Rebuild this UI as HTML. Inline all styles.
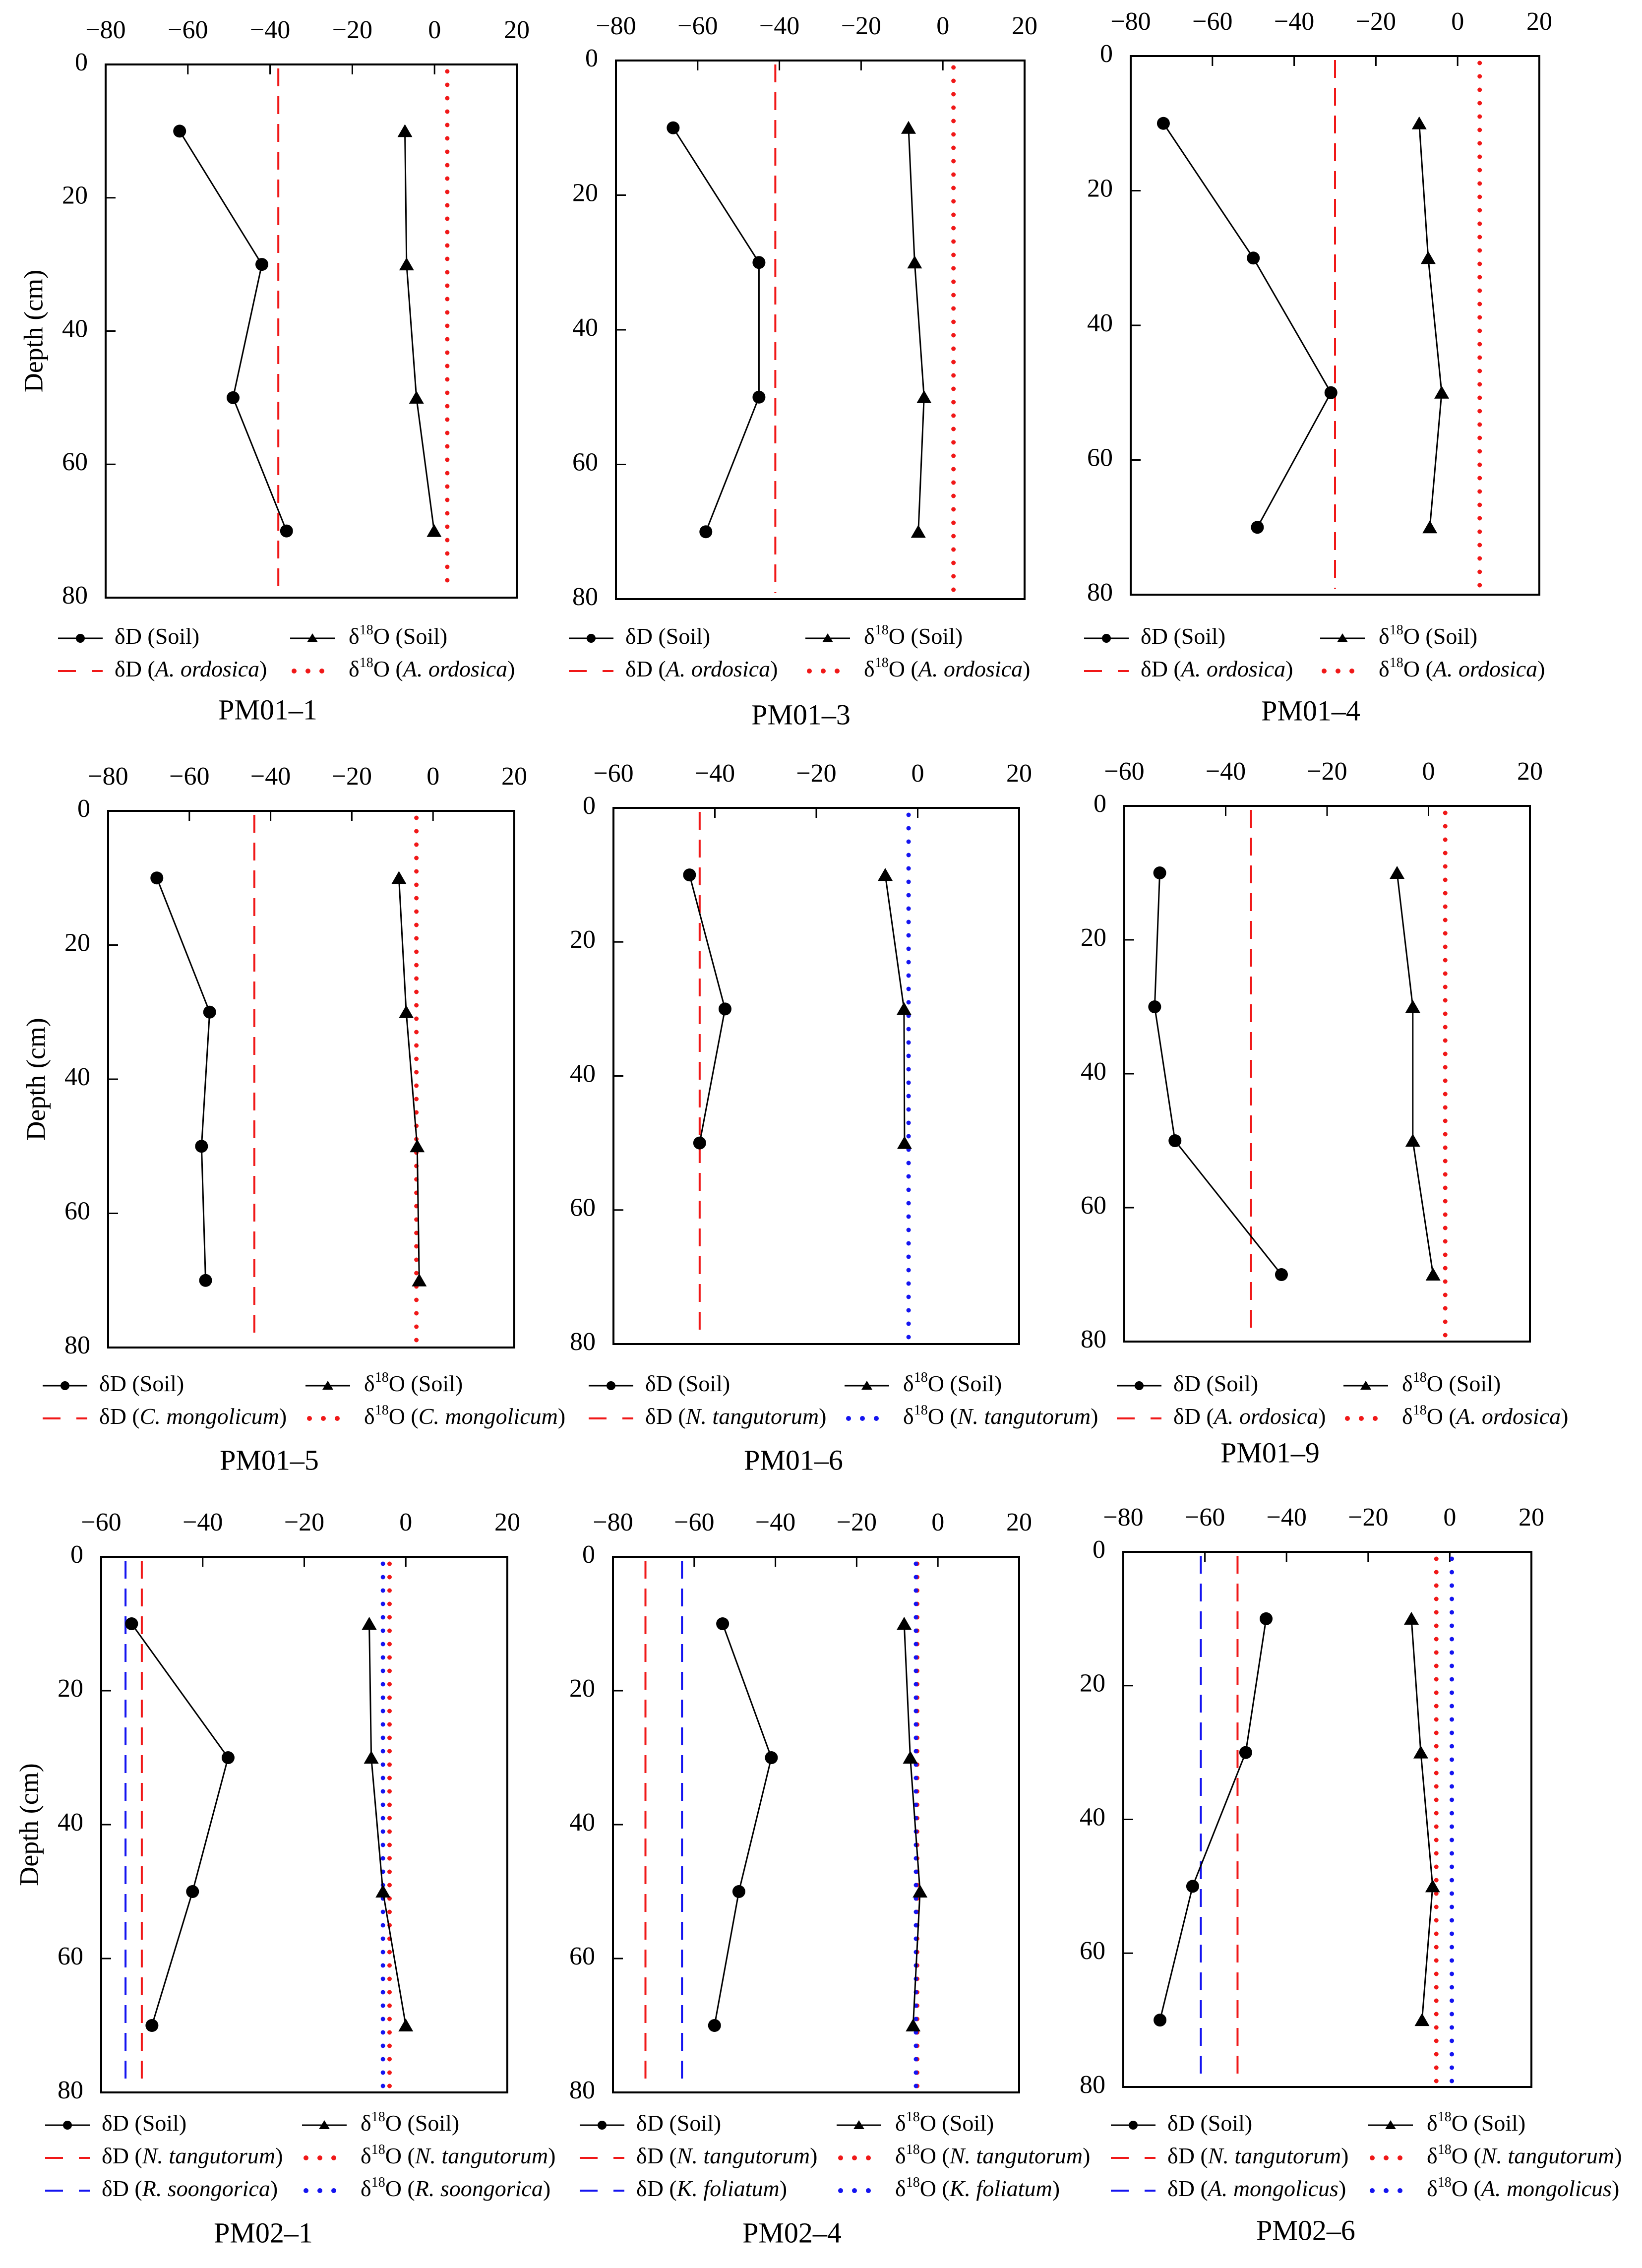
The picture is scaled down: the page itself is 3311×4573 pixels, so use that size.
<!DOCTYPE html>
<html><head><meta charset="utf-8"><style>
html,body{margin:0;padding:0;background:#fff;}
svg{display:block;font-family:"Liberation Serif","DejaVu Serif",serif;}
svg text{font-family:"Liberation Serif","DejaVu Serif",serif;}
</style></head><body>
<svg id="fig" xmlns="http://www.w3.org/2000/svg" width="3311" height="4573" viewBox="0 0 3311 4573" font-family="Liberation Serif, DejaVu Serif, serif"></svg>
<script>
// ---- data ----
const depths = [10, 30, 50, 70];
const yTicks = [0, 20, 40, 60, 80];
const panelTitles = ["PM01–1","PM01–3","PM01–4","PM01–5","PM01–6","PM01–9","PM02–1","PM02–4","PM02–6"];
const xMins = [-80, -80, -80, -80, -60, -60, -60, -80, -80];
const soilDD1 = [-62, -42, -49, -36];
const soilDO1 = [-7.2, -6.8, -4.4, -0.1];
const soilDD2 = [-66, -45, -45, -58];
const soilDO2 = [-8.4, -6.9, -4.6, -6.0];
const soilDD3 = [-72, -50, -31, -49];
const soilDO3 = [-9.4, -7.2, -3.9, -6.8];
const soilDD4 = [-68, -55, -57, -56];
const soilDO4 = [-8.4, -6.6, -3.9, -3.4];
const soilDD5 = [-45, -38, -43];
const soilDO5 = [-6.4, -2.7, -2.6];
const soilDD6 = [-53, -54, -50, -29];
const soilDO6 = [-6.2, -3.1, -3.1, 0.9];
const soilDD7 = [-54, -35, -42, -50];
const soilDO7 = [-7.2, -6.8, -4.5, 0.0];
const soilDD8 = [-53, -41, -49, -55];
const soilDO8 = [-8.3, -6.8, -4.4, -6.1];
const soilDD9 = [-45, -50, -63, -71];
const soilDO9 = [-9.4, -7.1, -4.2, -6.8];
const plantNames1 = ["A. ordosica"], plantDD1 = [-38], plantDO1 = [3.1];
const plantNames2 = ["A. ordosica"], plantDD2 = [-41], plantDO2 = [2.6];
const plantNames3 = ["A. ordosica"], plantDD3 = [-30], plantDO3 = [5.4];
const plantNames4 = ["C. mongolicum"], plantDD4 = [-44], plantDO4 = [-4.1];
const plantNames5 = ["N. tangutorum"], plantDD5 = [-43], plantDO5 = [-1.8];
const plantNames6 = ["A. ordosica"], plantDD6 = [-35], plantDO6 = [3.3];
const plantNames7 = ["N. tangutorum","R. soongorica"], plantDD7 = [-52, -55.2], plantDO7 = [-3.2, -4.5];
const plantNames8 = ["N. tangutorum","K. foliatum"], plantDD8 = [-72, -63], plantDO8 = [-5.1, -5.4];
const plantNames9 = ["N. tangutorum","A. mongolicus"], plantDD9 = [-52, -61], plantDO9 = [-3.3, 0.5];

// ---- layout (not data) ----
const layout = [
 {l:213,r:1042,t:130,b:1205,tx:540,ty:1437,ly:1287,c1:117,c2:585,depth:true},
 {l:1242,r:2066,t:122,b:1208,tx:1615,ty:1447,ly:1287,c1:1147,c2:1624},
 {l:2280,r:3104,t:113,b:1199,tx:2643,ty:1439,ly:1287,c1:2186,c2:2662},
 {l:218,r:1037,t:1635,b:2717,tx:543,ty:2950,ly:2794,c1:86,c2:616,depth:true},
 {l:1237,r:2055,t:1629,b:2710,tx:1600,ty:2950,ly:2794,c1:1187,c2:1703,blueO:true},
 {l:2267,r:3085,t:1625,b:2705,tx:2561,ty:2935,ly:2794,c1:2252,c2:2709},
 {l:204,r:1023,t:3139,b:4219,tx:531,ty:4508,ly:4285,c1:91,c2:609,depth:true},
 {l:1236,r:2055,t:3139,b:4219,tx:1597,ty:4508,ly:4285,c1:1169,c2:1687},
 {l:2265,r:3088,t:3129,b:4208,tx:2633,ty:4503,ly:4285,c1:2240,c2:2759}
];
const soilDD = [soilDD1,soilDD2,soilDD3,soilDD4,soilDD5,soilDD6,soilDD7,soilDD8,soilDD9];
const soilDO = [soilDO1,soilDO2,soilDO3,soilDO4,soilDO5,soilDO6,soilDO7,soilDO8,soilDO9];
const plantNames = [plantNames1,plantNames2,plantNames3,plantNames4,plantNames5,plantNames6,plantNames7,plantNames8,plantNames9];
const plantDD = [plantDD1,plantDD2,plantDD3,plantDD4,plantDD5,plantDD6,plantDD7,plantDD8,plantDD9];
const plantDO = [plantDO1,plantDO2,plantDO3,plantDO4,plantDO5,plantDO6,plantDO7,plantDO8,plantDO9];
const RED = "#f01818", BLUE = "#1414f0";
const FF = "Liberation Serif, DejaVu Serif, serif";

const NS = "http://www.w3.org/2000/svg";
const svg = document.getElementById("fig");
function mk(tag, attrs, parent){
  const e = document.createElementNS(NS, tag);
  if (tag === "text") e.setAttribute("font-family", FF);
  for (const k in attrs) e.setAttribute(k, attrs[k]);
  (parent||svg).appendChild(e);
  return e;
}
function fmt(v){ return v < 0 ? "\u2212" + Math.abs(v) : String(v); }

function legendLabel(g, x, y, isO, species){
  const t = mk("text", {x:x, y:y, "font-size":46, "dominant-baseline":"middle"}, g);
  
  
  const s1 = mk("tspan", {}, t); s1.textContent = "δ";
  if (isO){
    const sup = mk("tspan", {"font-size":28, dy:-14}, t); sup.textContent = "18";
    const o = mk("tspan", {dy:14}, t); o.textContent = "O (";
  } else {
    const d = mk("tspan", {}, t); d.textContent = "D (";
  }
  if (species === "Soil"){ const sp = mk("tspan", {}, t); sp.textContent = "Soil"; }
  else { const sp = mk("tspan", {"font-style":"italic"}, t); sp.textContent = species; }
  const c = mk("tspan", {}, t); c.textContent = ")";
}

layout.forEach((L, i) => {
  const g = mk("g", {});
  
  
  const xmin = xMins[i], xmax = 20;
  const X = v => L.l + (v - xmin) / (xmax - xmin) * (L.r - L.l);
  const Y = d => L.t + d / 80 * (L.b - L.t);

  for (let v = xmin; v <= xmax; v += 20){
    const t = mk("text", {x:X(v), y:L.t-65, "font-size":52, "text-anchor":"middle", "dominant-baseline":"middle"}, g);
    
    
    t.textContent = fmt(v);
    if (v > xmin && v < xmax){
      const tk = mk("line", {x1:X(v), x2:X(v), y1:L.t, y2:L.t+20, stroke:"#000", "stroke-width":3}, g);
      
      
    }
  }
  yTicks.forEach(d => {
    const t = mk("text", {x:L.l-36, y:Y(d), "font-size":52, "text-anchor":"end", "dominant-baseline":"middle"}, g);
    
    
    t.textContent = String(d);
    if (d > 0 && d < 80){
      const tk = mk("line", {x1:L.l, x2:L.l+20, y1:Y(d), y2:Y(d), stroke:"#000", "stroke-width":3}, g);
      
      
    }
  });
  const box = mk("rect", {x:L.l, y:L.t, width:L.r-L.l, height:L.b-L.t, fill:"none", stroke:"#000", "stroke-width":4}, g);
  
  

  if (L.depth){
    const cy = (L.t + L.b) / 2, cx = L.l - 140;
    const dt = mk("text", {x:cx, y:cy, "font-size":54, "text-anchor":"middle", "dominant-baseline":"middle", transform:`rotate(-90 ${cx} ${cy})`}, g);
    
    
    dt.textContent = "Depth (cm)";
  }

  const names = plantNames[i];
  names.forEach((nm, k) => {
    const col = k === 0 ? RED : BLUE;
    const colO = (k === 0 && !L.blueO) ? RED : BLUE;
    const ld = mk("line", {x1:X(plantDD[i][k]), x2:X(plantDD[i][k]), y1:L.t+8, y2:L.b-12, stroke:col, "stroke-width":4, "stroke-dasharray":"36 20"}, g);
    
    
    const lo = mk("line", {x1:X(plantDO[i][k]), x2:X(plantDO[i][k]), y1:L.t+14, y2:L.b-10, stroke:colO, "stroke-width":9, "stroke-linecap":"round", "stroke-dasharray":"0 27"}, g);
    
    
  });

  const dd = soilDD[i], dO = soilDO[i];
  const pD = mk("polyline", {points: dd.map((v,j)=>X(v)+","+Y(depths[j])).join(" "), fill:"none", stroke:"#000", "stroke-width":3}, g);
  
  
  dd.forEach((v,j) => {
    const c = mk("circle", {cx:X(v), cy:Y(depths[j]), r:13, fill:"#000"}, g);
    
    
  });
  const pO = mk("polyline", {points: dO.map((v,j)=>X(v)+","+Y(depths[j])).join(" "), fill:"none", stroke:"#000", "stroke-width":3}, g);
  
  
  dO.forEach((v,j) => {
    const x = X(v), y = Y(depths[j]);
    const tr = mk("polygon", {points:`${x},${y-14} ${x-15},${y+12} ${x+15},${y+12}`, fill:"#000"}, g);
    
    
  });

  const lg = mk("g", {}, g);
  
  
  const rowH = 66;
  let y = L.ly;
  mk("line", {x1:L.c1, x2:L.c1+90, y1:y, y2:y, stroke:"#000", "stroke-width":3}, lg);
  mk("circle", {cx:L.c1+45, cy:y, r:9, fill:"#000"}, lg);
  legendLabel(lg, L.c1+114, y, false, "Soil");
  mk("line", {x1:L.c2, x2:L.c2+90, y1:y, y2:y, stroke:"#000", "stroke-width":3}, lg);
  mk("polygon", {points:`${L.c2+45},${y-10} ${L.c2+34},${y+8} ${L.c2+56},${y+8}`, fill:"#000"}, lg);
  legendLabel(lg, L.c2+118, y, true, "Soil");
  names.forEach((nm, k) => {
    y += rowH;
    const col = k === 0 ? RED : BLUE;
    const colO = (k === 0 && !L.blueO) ? RED : BLUE;
    mk("line", {x1:L.c1, x2:L.c1+90, y1:y, y2:y, stroke:col, "stroke-width":4, "stroke-dasharray":"36 32"}, lg);
    legendLabel(lg, L.c1+114, y, false, nm);
    mk("line", {x1:L.c2+8, x2:L.c2+80, y1:y, y2:y, stroke:colO, "stroke-width":10, "stroke-linecap":"round", "stroke-dasharray":"0 28"}, lg);
    legendLabel(lg, L.c2+118, y, true, nm);
  });

  const tt = mk("text", {x:L.tx, y:L.ty, "font-size":58, "text-anchor":"middle", "dominant-baseline":"middle"}, g);
  
  
  tt.textContent = panelTitles[i];
});
</script>
</body></html>
